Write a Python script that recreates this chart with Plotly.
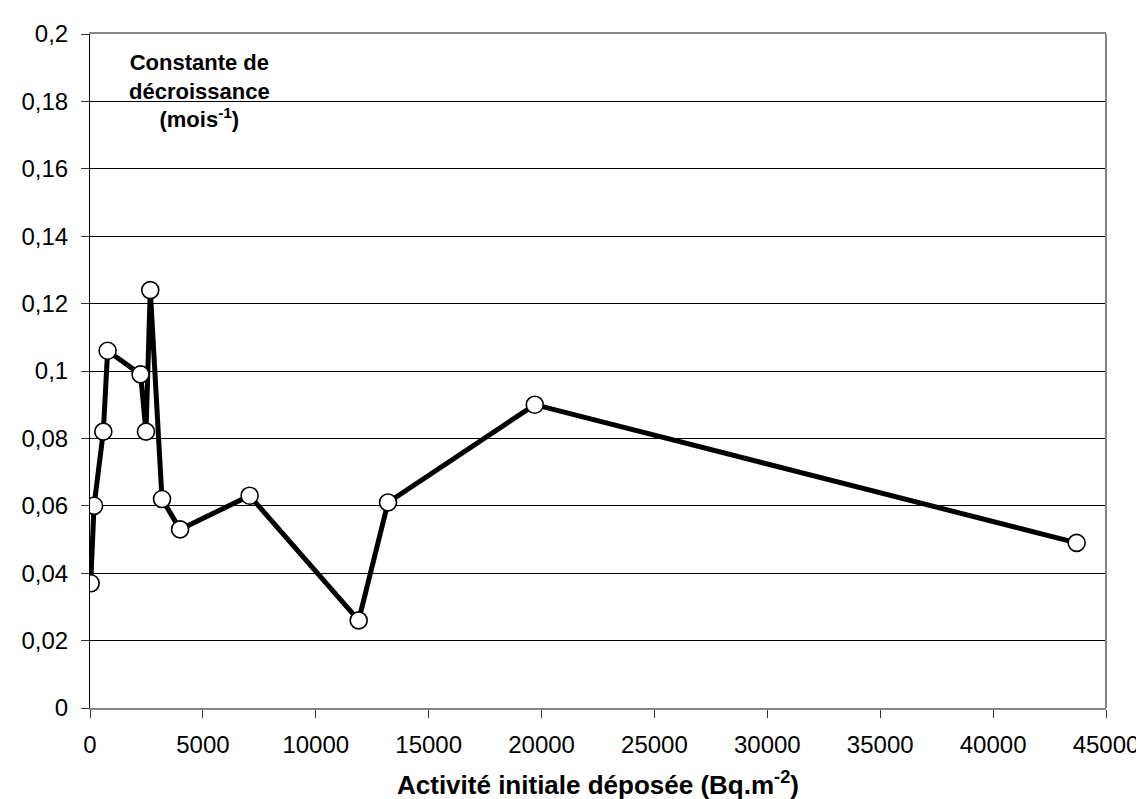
import plotly.graph_objects as go

# activity (Bq/m2) vs decay constant (1/month)
activite = [30, 180, 590, 780, 2240, 2480, 2670, 3190, 3990, 7070, 11900, 13200, 19700, 43700]
constante = [0.037, 0.060, 0.082, 0.106, 0.099, 0.082, 0.124, 0.062, 0.053, 0.063, 0.026, 0.061, 0.090, 0.049]

x_ticks = [0, 5000, 10000, 15000, 20000, 25000, 30000, 35000, 40000, 45000]
x_labels = [str(v) for v in x_ticks]
y_ticks = [0, 0.02, 0.04, 0.06, 0.08, 0.1, 0.12, 0.14, 0.16, 0.18, 0.2]
y_labels = ["0", "0,02", "0,04", "0,06", "0,08", "0,1", "0,12", "0,14", "0,16", "0,18", "0,2"]

FONT = "Liberation Sans, Arial, sans-serif"

fig = go.Figure()
fig.add_trace(go.Scatter(
    x=activite, y=constante, mode="lines+markers",
    line=dict(color="black", width=5),
    marker=dict(size=17, color="white", line=dict(color="black", width=1.6)),
    showlegend=False,
))

fig.update_layout(
    width=1144, height=799,
    margin=dict(l=82, r=46, t=23, b=99),
    paper_bgcolor="white", plot_bgcolor="white",
    font=dict(family=FONT, size=24, color="black"),
    xaxis=dict(
        range=[0, 45000], tickvals=x_ticks, ticktext=x_labels,
        showgrid=False, zeroline=False,
        showline=True, linecolor="#858585", linewidth=2, mirror=True,
        ticks="outside", ticklen=8, tickcolor="#333", tickwidth=1,
        ticklabelstandoff=6,
    ),
    yaxis=dict(
        range=[0, 0.2], tickvals=y_ticks, ticktext=y_labels,
        showgrid=True, gridcolor="black", gridwidth=1, zeroline=False,
        showline=True, linecolor="black", linewidth=1,
        ticks="outside", ticklen=8, tickcolor="#333", tickwidth=1,
        ticklabelstandoff=8,
    ),
    annotations=[
        dict(text="<b>Activité initiale déposée (Bq.m<sup>-2</sup>)</b>",
             xref="paper", yref="paper", x=0.5, xanchor="center",
             y=-0.112, yanchor="middle",
             showarrow=False, font=dict(size=26)),
        dict(text="<b>Constante de<br>décroissance<br>(mois<sup>-1</sup>)</b>",
             xref="paper", yref="paper", x=0.108, xanchor="center",
             y=0.916, yanchor="middle",
             showarrow=False, align="center", font=dict(size=22)),
    ],
    shapes=[
        dict(type="line", xref="paper", yref="paper", x0=1, x1=1, y0=0, y1=1,
             line=dict(color="#858585", width=2)),
    ],
)

fig.write_html("out.html")
